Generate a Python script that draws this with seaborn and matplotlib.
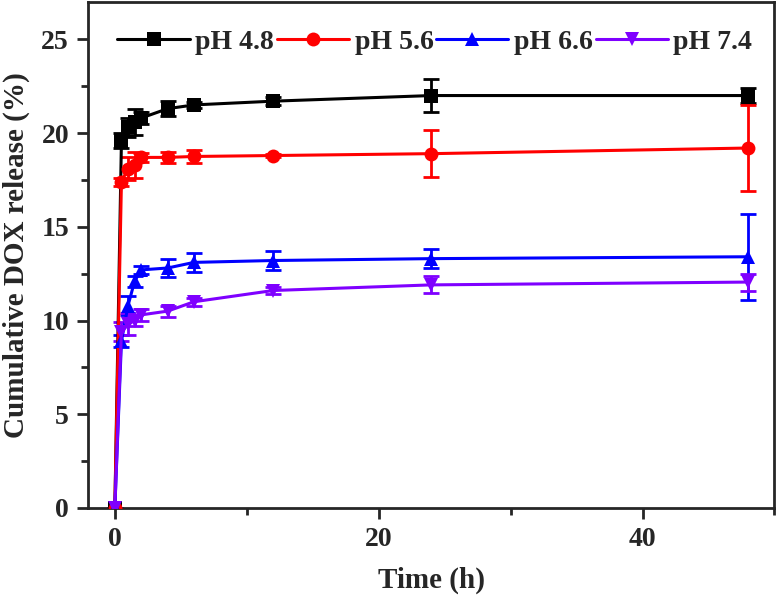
import numpy as np
import pandas as pd
import matplotlib
matplotlib.use("Agg")
import matplotlib.pyplot as plt
import seaborn as sns
from matplotlib.ticker import MultipleLocator

# Datos
tiempo = [0, 0.5, 1, 1.5, 2, 4, 6, 12, 24, 48]
ph48 = [0, 19.6, 20.3, 20.6, 20.8, 21.3, 21.5, 21.7, 22.0, 22.0]
ph56 = [0, 17.4, 18.1, 18.3, 18.7, 18.7, 18.75, 18.8, 18.9, 19.2]
ph66 = [0, 8.9, 10.8, 12.1, 12.7, 12.8, 13.1, 13.2, 13.3, 13.4]
ph74 = [0, 9.4, 9.8, 10.0, 10.3, 10.5, 11.0, 11.6, 11.9, 12.05]
err48 = [0, 0.4, 0.5, 0.7, 0.3, 0.4, 0.15, 0.2, 0.9, 0.4]
err56 = [0, 0.2, 0.6, 0.7, 0.25, 0.3, 0.35, 0.1, 1.25, 2.3]
err66 = [0, 0.3, 0.5, 0.3, 0.2, 0.5, 0.5, 0.5, 0.5, 2.3]
err74 = [0, 0.5, 0.6, 0.3, 0.3, 0.3, 0.2, 0.2, 0.45, 0.45]
etiquetas = ["pH 4.8", "pH 5.6", "pH 6.6", "pH 7.4"]

colores = {"pH 4.8": "#000000", "pH 5.6": "#ff0000", "pH 6.6": "#0000ff", "pH 7.4": "#7f00ff"}
marcadores = {"pH 4.8": "s", "pH 5.6": "o", "pH 6.6": "^", "pH 7.4": "v"}

series = [ph48, ph56, ph66, ph74]
errores = [err48, err56, err66, err74]
df = pd.concat([
    pd.DataFrame({"tiempo": tiempo, "liberacion": s, "err": e, "grupo": lab})
    for s, e, lab in zip(series, errores, etiquetas)
], ignore_index=True)

sns.set_style("ticks")
plt.rcParams["font.family"] = ["Liberation Serif", "DejaVu Serif"]
plt.rcParams["font.weight"] = "bold"

fig = plt.figure(figsize=(7.76, 6.04), dpi=100)
ax = fig.add_axes([0.114, 0.159, 0.884, 0.838])

for lab in etiquetas:
    d = df[df["grupo"] == lab]
    ax.errorbar(d["tiempo"], d["liberacion"], yerr=d["err"], fmt="none",
                ecolor=colores[lab], elinewidth=2, capsize=6, capthick=2, zorder=2)

sns.lineplot(data=df, x="tiempo", y="liberacion", hue="grupo", style="grupo",
             palette=colores, markers=marcadores, dashes=False, linewidth=2.2,
             markersize=10, markeredgewidth=0, ax=ax, zorder=3)

ax.set_xlim(-2, 50)
ax.set_ylim(0, 27)
ax.xaxis.set_major_locator(MultipleLocator(20))
ax.xaxis.set_minor_locator(MultipleLocator(10))
ax.yaxis.set_major_locator(MultipleLocator(5))
ax.yaxis.set_minor_locator(MultipleLocator(2.5))
ax.tick_params(axis="both", which="major", direction="out", length=8, width=2, labelsize=20, pad=6)
ax.tick_params(axis="both", which="minor", direction="out", length=5, width=2)
for sp in ax.spines.values():
    sp.set_linewidth(2)
    sp.set_visible(True)
for t in ax.get_xticklabels() + ax.get_yticklabels():
    t.set_fontweight("bold")

ax.set_xlabel("Time (h)", fontsize=21, fontweight="bold", labelpad=10)
ax.set_ylabel("Cumulative DOX release (%)", fontsize=21, fontweight="bold", labelpad=8)

h, l = ax.get_legend_handles_labels()
ax.legend(h, l, loc="upper center", ncol=4, frameon=False,
          handlelength=2.6, handletextpad=0.2, columnspacing=0.1,
          bbox_to_anchor=(0.505, 0.995), prop={"weight": "bold", "size": 20})

fig.savefig("out.png", dpi=100)
